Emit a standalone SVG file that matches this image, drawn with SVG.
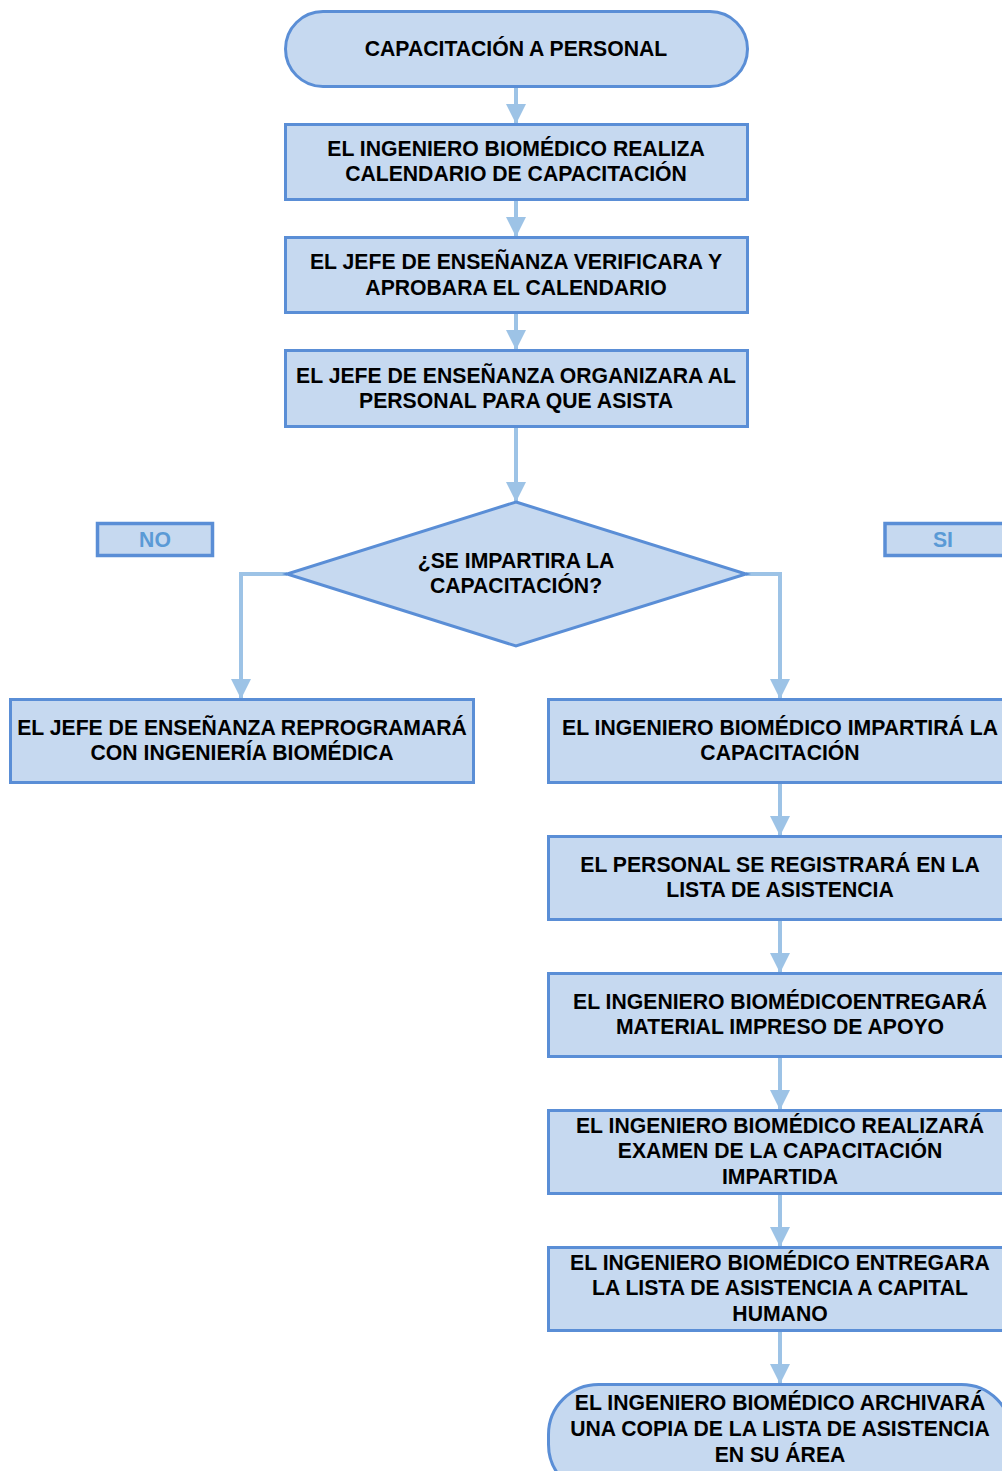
<svg xmlns="http://www.w3.org/2000/svg" width="1002" height="1471" viewBox="0 0 1002 1471">
  <style>
    .box { fill: #c6d9f0; stroke: #5a8ed6; stroke-width: 3; }
    .lbl { fill: #c6d9f0; stroke: #5a8ed6; stroke-width: 3.5; }
    .t { font-family: "Liberation Sans", Arial, sans-serif; font-weight: bold; font-size: 21.2px; fill: #000; text-anchor: middle; }
    .tl { font-family: "Liberation Sans", Arial, sans-serif; font-weight: bold; font-size: 21.2px; fill: #5a9ad6; text-anchor: middle; }
    .c { fill: none; stroke: #9dc3e6; stroke-width: 4; }
  </style>
  <defs>
    <marker id="ah" markerUnits="userSpaceOnUse" markerWidth="20" markerHeight="20" viewBox="0 0 20 20" refX="20" refY="10" orient="auto">
      <path d="M0,0 L20,10 L0,20 Z" fill="#9dc3e6"/>
    </marker>
  </defs>
  <rect width="1002" height="1471" fill="#ffffff"/>

  <g id="connectors">
    <line class="c" x1="516" y1="86" x2="516" y2="124" marker-end="url(#ah)"/>
    <line class="c" x1="516" y1="200" x2="516" y2="237" marker-end="url(#ah)"/>
    <line class="c" x1="516" y1="313" x2="516" y2="350" marker-end="url(#ah)"/>
    <line class="c" x1="516" y1="427" x2="516" y2="502" marker-end="url(#ah)"/>
    <polyline class="c" points="287,574 241,574 241,699" marker-end="url(#ah)"/>
    <polyline class="c" points="746,574 780,574 780,699" marker-end="url(#ah)"/>
    <line class="c" x1="780" y1="783" x2="780" y2="836" marker-end="url(#ah)"/>
    <line class="c" x1="780" y1="920" x2="780" y2="973" marker-end="url(#ah)"/>
    <line class="c" x1="780" y1="1057" x2="780" y2="1110" marker-end="url(#ah)"/>
    <line class="c" x1="780" y1="1194" x2="780" y2="1247" marker-end="url(#ah)"/>
    <line class="c" x1="780" y1="1331" x2="780" y2="1384" marker-end="url(#ah)"/>
  </g>

  <g id="start">
    <rect class="box" x="285.5" y="11.5" width="462" height="75" rx="37.5"/>
    <text class="t" x="516" y="56">CAPACITACIÓN A PERSONAL</text>
  </g>

  <g id="step1">
    <rect class="box" x="285.5" y="124.5" width="462" height="75"/>
    <text class="t" x="516" y="156">EL INGENIERO BIOMÉDICO REALIZA</text>
    <text class="t" x="516" y="181">CALENDARIO DE CAPACITACIÓN</text>
  </g>

  <g id="step2">
    <rect class="box" x="285.5" y="237.5" width="462" height="75"/>
    <text class="t" x="516" y="269">EL JEFE DE ENSEÑANZA VERIFICARA Y</text>
    <text class="t" x="516" y="295">APROBARA EL CALENDARIO</text>
  </g>

  <g id="step3">
    <rect class="box" x="285.5" y="350.5" width="462" height="76"/>
    <text class="t" x="516" y="383">EL JEFE DE ENSEÑANZA ORGANIZARA AL</text>
    <text class="t" x="516" y="408">PERSONAL PARA QUE ASISTA</text>
  </g>

  <g id="decision">
    <polygon class="box" points="516,502 746,574 516,646 287,574"/>
    <text class="t" x="516" y="568">¿SE IMPARTIRA LA</text>
    <text class="t" x="516" y="593">CAPACITACIÓN?</text>
  </g>

  <g id="label-no">
    <rect class="lbl" x="97.5" y="523.5" width="115" height="32"/>
    <text class="tl" x="155" y="547">NO</text>
  </g>

  <g id="label-si">
    <rect class="lbl" x="885" y="523.5" width="125" height="32"/>
    <text class="tl" x="943" y="547">SI</text>
  </g>

  <g id="reschedule">
    <rect class="box" x="10.5" y="699.5" width="463" height="83"/>
    <text class="t" x="242" y="735">EL JEFE DE ENSEÑANZA REPROGRAMARÁ</text>
    <text class="t" x="242" y="760">CON INGENIERÍA BIOMÉDICA</text>
  </g>

  <g id="deliver">
    <rect class="box" x="548.5" y="699.5" width="463" height="83"/>
    <text class="t" x="780" y="735">EL INGENIERO BIOMÉDICO IMPARTIRÁ LA</text>
    <text class="t" x="780" y="760">CAPACITACIÓN</text>
  </g>

  <g id="register">
    <rect class="box" x="548.5" y="836.5" width="463" height="83"/>
    <text class="t" x="780" y="872">EL PERSONAL SE REGISTRARÁ EN LA</text>
    <text class="t" x="780" y="897">LISTA DE ASISTENCIA</text>
  </g>

  <g id="material">
    <rect class="box" x="548.5" y="973.5" width="463" height="83"/>
    <text class="t" x="780" y="1009">EL INGENIERO BIOMÉDICOENTREGARÁ</text>
    <text class="t" x="780" y="1034">MATERIAL IMPRESO DE APOYO</text>
  </g>

  <g id="exam">
    <rect class="box" x="548.5" y="1110.5" width="463" height="83"/>
    <text class="t" x="780" y="1133">EL INGENIERO BIOMÉDICO REALIZARÁ</text>
    <text class="t" x="780" y="1158">EXAMEN DE LA CAPACITACIÓN</text>
    <text class="t" x="780" y="1184">IMPARTIDA</text>
  </g>

  <g id="hand-over">
    <rect class="box" x="548.5" y="1247.5" width="463" height="83"/>
    <text class="t" x="780" y="1270">EL INGENIERO BIOMÉDICO ENTREGARA</text>
    <text class="t" x="780" y="1295">LA LISTA DE ASISTENCIA A CAPITAL</text>
    <text class="t" x="780" y="1321">HUMANO</text>
  </g>

  <g id="end">
    <rect class="box" x="548.5" y="1384.5" width="463" height="110" rx="50"/>
    <text class="t" x="780" y="1410">EL INGENIERO BIOMÉDICO ARCHIVARÁ</text>
    <text class="t" x="780" y="1436">UNA COPIA DE LA LISTA DE ASISTENCIA</text>
    <text class="t" x="780" y="1462">EN SU ÁREA</text>
  </g>
</svg>
